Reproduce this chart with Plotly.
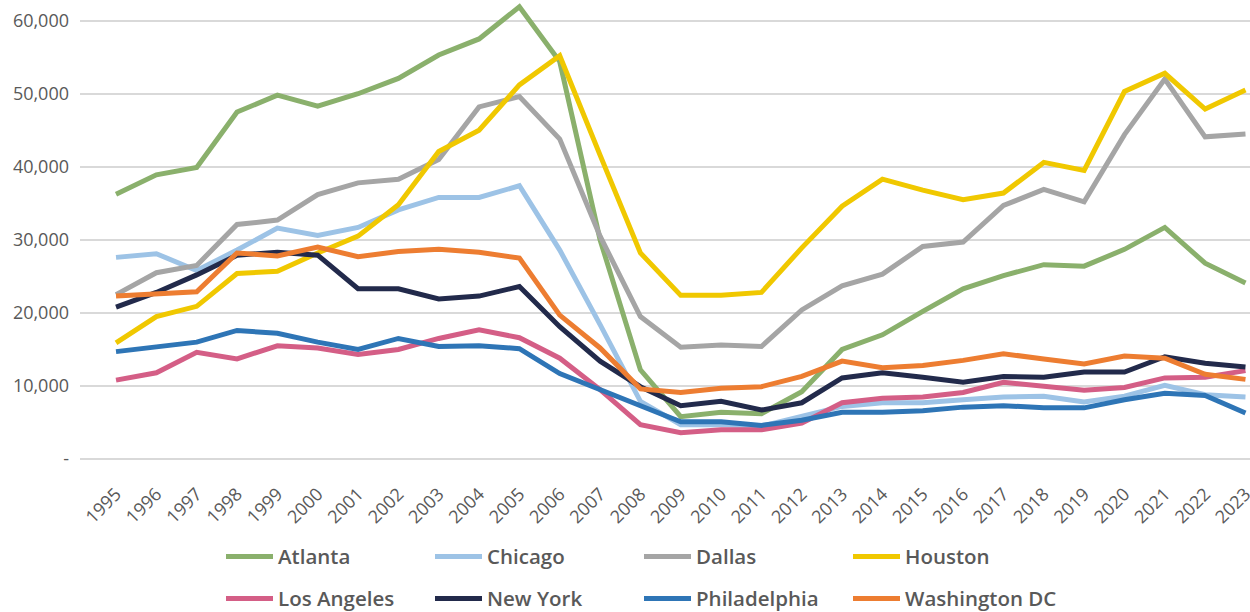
import plotly.graph_objects as go

years = list(range(1995, 2024))

atlanta = [36.25, 38.9, 39.9, 47.5, 49.8, 48.3, 50.0, 52.1, 55.3, 57.5, 61.9, 54.4, 30.0, 12.2,
           5.8, 6.4, 6.2, 9.2, 15.0, 17.0, 20.2, 23.3, 25.1, 26.6, 26.4, 28.7, 31.7, 26.8, 24.1]
chicago = [27.6, 28.1, 25.8, 28.6, 31.6, 30.6, 31.7, 34.1, 35.8, 35.8, 37.4, 28.6, 18.4, 7.9,
           4.7, 4.7, 4.5, 5.8, 7.2, 7.7, 7.7, 8.1, 8.5, 8.6, 7.8, 8.6, 10.1, 8.8, 8.5]
dallas = [22.5, 25.5, 26.5, 32.1, 32.7, 36.2, 37.8, 38.3, 41.0, 48.2, 49.6, 43.8, 30.5, 19.5,
          15.3, 15.6, 15.4, 20.4, 23.7, 25.3, 29.1, 29.7, 34.7, 36.9, 35.2, 44.4, 52.0, 44.1, 44.5]
houston = [15.9, 19.5, 20.9, 25.4, 25.7, 28.2, 30.5, 34.8, 42.1, 45.0, 51.2, 55.2, 41.6, 28.2,
           22.4, 22.4, 22.8, 28.9, 34.6, 38.3, 36.8, 35.5, 36.4, 40.6, 39.5, 50.3, 52.8, 47.9, 50.5]
los_angeles = [10.8, 11.8, 14.6, 13.7, 15.5, 15.2, 14.3, 15.0, 16.5, 17.7, 16.6, 13.8, 9.5, 4.7,
               3.6, 4.0, 4.0, 4.9, 7.7, 8.3, 8.5, 9.1, 10.5, 9.9, 9.4, 9.8, 11.1, 11.2, 12.1]
new_york = [20.8, 22.8, 25.2, 27.9, 28.3, 27.9, 23.3, 23.3, 21.9, 22.3, 23.6, 18.1, 13.4, 9.9,
            7.3, 7.9, 6.7, 7.7, 11.1, 11.8, 11.2, 10.5, 11.3, 11.2, 11.9, 11.9, 14.0, 13.1, 12.6]
philadelphia = [14.7, 15.3, 16.0, 17.6, 17.2, 16.0, 15.0, 16.5, 15.4, 15.5, 15.1, 11.7, 9.5, 7.3,
                5.1, 5.1, 4.6, 5.3, 6.4, 6.4, 6.6, 7.1, 7.3, 7.0, 7.0, 8.1, 9.0, 8.7, 6.3]
washington_dc = [22.3, 22.6, 22.9, 28.2, 27.8, 29.0, 27.7, 28.4, 28.7, 28.3, 27.5, 19.7, 15.2, 9.6,
                 9.1, 9.7, 9.9, 11.3, 13.4, 12.5, 12.8, 13.5, 14.4, 13.7, 13.0, 14.1, 13.8, 11.6, 10.9]

series_names = ["Atlanta", "Chicago", "Dallas", "Houston",
                "Los Angeles", "New York", "Philadelphia", "Washington DC"]
series_values = [atlanta, chicago, dallas, houston, los_angeles, new_york, philadelphia, washington_dc]
series_colors = ["#8AB06C", "#9DC3E6", "#A5A5A5", "#F0C800",
                 "#D45E86", "#222A4B", "#2E75B6", "#ED7D31"]

y_tick_vals = [0, 10000, 20000, 30000, 40000, 50000, 60000]
y_tick_text = ["-", "10,000", "20,000", "30,000", "40,000", "50,000", "60,000"]

fig = go.Figure()
for i, (name, vals, col) in enumerate(zip(series_names, series_values, series_colors)):
    fig.add_trace(go.Scatter(
        x=years, y=[v * 1000 for v in vals], name=name, mode="lines",
        line=dict(color=col, width=5),
        legend="legend" if i < 4 else "legend2",
    ))

legend_common = dict(
    orientation="h", xanchor="left", yanchor="middle",
    font=dict(family="Open Sans", size=20.5, color="#595959", weight=600),
    entrywidth=147, itemwidth=47, bgcolor="rgba(0,0,0,0)",
    traceorder="normal",
)

fig.update_layout(
    width=1250, height=612,
    margin=dict(l=80, r=0, t=0, b=153, autoexpand=False),
    paper_bgcolor="white", plot_bgcolor="white",
    font=dict(family="Open Sans", color="#595959"),
    showlegend=True,
    legend=dict(x=(221 - 80) / 1170, y=(459.3 - 557) / 459.3, **legend_common),
    legend2=dict(x=(221 - 80) / 1170, y=(459.3 - 599) / 459.3, **legend_common),
    xaxis=dict(
        range=[1994.107, 2023.112], tickmode="array", tickvals=years,
        ticktext=[str(y) for y in years], tickangle=-45, automargin=False,
        tickfont=dict(size=18, color="#595959"), ticklabelstandoff=20,
        ticklabeloverflow="allow",
        showgrid=False, zeroline=False, showline=False, ticks="",
    ),
    yaxis=dict(
        range=[0, 62830], tickmode="array", tickvals=y_tick_vals, ticktext=y_tick_text,
        tickfont=dict(size=18, color="#595959"), automargin=False,
        showgrid=True, gridcolor="#D9D9D9", gridwidth=1.5,
        zeroline=True, zerolinecolor="#D9D9D9", zerolinewidth=1.5,
        showline=False, ticks="", ticklabelstandoff=10,
    ),
)

fig.write_html(
    "out.html",
    config={"displayModeBar": False},
    post_script="document.body.style.margin='0';document.body.style.overflow='hidden';",
)
